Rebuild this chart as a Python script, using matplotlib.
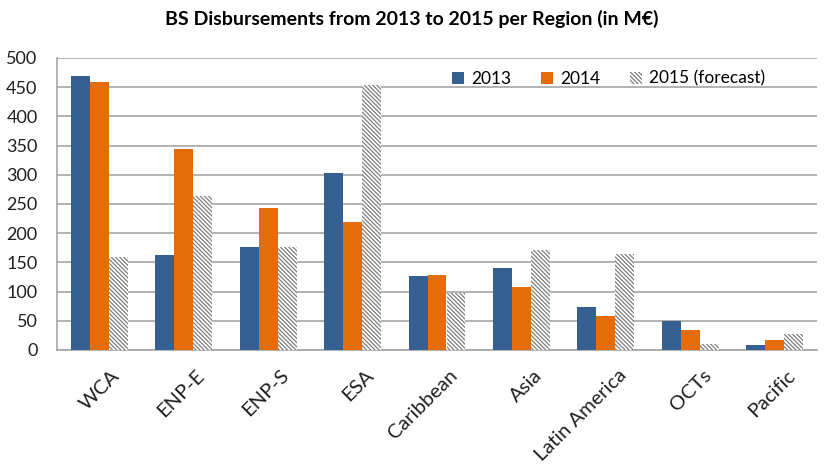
import matplotlib
matplotlib.use("Agg")
import matplotlib.pyplot as plt
import matplotlib.transforms as mtransforms
import numpy as np

plt.rcParams['font.family'] = ['Lato', 'DejaVu Sans']
plt.rcParams['hatch.linewidth'] = 0.9

# data (M€)
regions = ["WCA", "ENP-E", "ENP-S", "ESA", "Caribbean", "Asia",
           "Latin America", "OCTs", "Pacific"]
y2013 = [470, 162, 177, 303, 126, 141, 73, 50, 9]
y2014 = [459, 345, 243, 219, 128, 108, 59, 35, 17]
y2015 = [159, 264, 176, 454, 97, 171, 165, 10, 27]
yticks = [0, 50, 100, 150, 200, 250, 300, 350, 400, 450, 500]

fig = plt.figure(figsize=(8.24, 4.70), dpi=100)
ax = fig.add_axes([57 / 824, 1 - 350 / 470, 760 / 824, 292 / 470])

x = np.arange(len(regions))
w = 0.225
ax.bar(x - w, y2013, w, color='#366092', label='2013', zorder=3)
ax.bar(x, y2014, w, color='#e46c0a', label='2014', zorder=3)
ax.bar(x + w, y2015, w, color='white', edgecolor='#7f7f7f', linewidth=0,
       hatch='\\' * 8, label='2015 (forecast)', zorder=3)

ax.set_xlim(-0.5, len(regions) - 0.5)
ax.set_ylim(0, 500)
ax.set_yticks(yticks)
ax.yaxis.grid(True, color='#a6a6a6', linewidth=1.2, zorder=0)
ax.set_xticks(x)
ax.set_xticklabels(regions, rotation=45, ha='right', va='top',
                   rotation_mode='anchor', fontsize=14.5, color='#202020')
ax.tick_params(axis='y', labelsize=13, length=0, pad=14, colors='#202020')
ax.tick_params(axis='x', length=0, pad=12)
# nudge rotated labels to the right like the original
shift = mtransforms.ScaledTranslation(0.12, 0, fig.dpi_scale_trans)
for lbl in ax.get_xticklabels():
    lbl.set_transform(lbl.get_transform() + shift)

for s in ['top', 'right']:
    ax.spines[s].set_visible(False)
ax.spines['left'].set_color('#a6a6a6')
ax.spines['bottom'].set_color('#a6a6a6')
ax.spines['left'].set_linewidth(1.2)
ax.spines['bottom'].set_linewidth(1.2)

ax.legend(loc='upper right', bbox_to_anchor=(0.952, 1.01), ncol=3, frameon=False,
          fontsize=12.5, handlelength=0.7, handleheight=0.7, columnspacing=1.7,
          handletextpad=0.4)

fig.text(0.5, 0.96, "BS Disbursements from 2013 to 2015 per Region (in M€)",
         ha='center', va='center', fontsize=14, fontweight='bold')

fig.savefig("out.png", dpi=100)
